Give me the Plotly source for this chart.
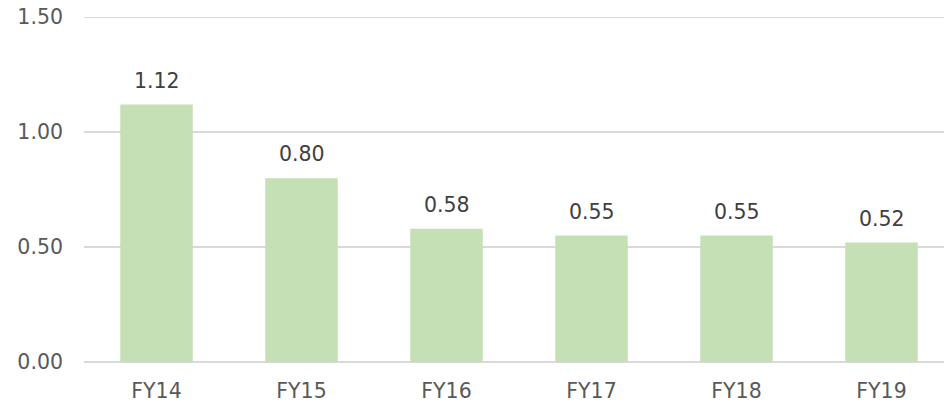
import plotly.graph_objects as go

categories = ["FY14", "FY15", "FY16", "FY17", "FY18", "FY19"]
values = [1.12, 0.80, 0.58, 0.55, 0.55, 0.52]
tick_vals = [0.0, 0.5, 1.0, 1.5]
tick_text = ["0.00", "0.50", "1.00", "1.50"]

FONT = "DejaVu Sans, Verdana, sans-serif"
FS = 20.5

fig = go.Figure()
fig.add_trace(go.Bar(
    x=categories, y=values,
    marker=dict(color="#c5e0b4", line=dict(width=0)),
    width=0.5,
    hoverinfo="skip",
))

for c, v in zip(categories, values):
    fig.add_annotation(
        x=c, y=v, text=f"{v:.2f}", showarrow=False,
        yanchor="bottom", yshift=10,
        font=dict(family=FONT, size=FS, color="#404040"),
    )

fig.update_layout(
    width=944, height=403,
    margin=dict(l=84, r=0, t=14.7, b=41, autoexpand=False),
    plot_bgcolor="white", paper_bgcolor="white",
    showlegend=False,
    font=dict(family=FONT, size=FS, color="#595959"),
    bargap=0.5,
)
fig.update_xaxes(
    range=[-0.5, 5.431], showgrid=False, showline=False, zeroline=False,
    ticks="", tickfont=dict(family=FONT, size=FS, color="#595959"),
    ticklabelstandoff=14, automargin=False,
)
fig.update_yaxes(
    range=[0, 1.51], tickvals=tick_vals, ticktext=tick_text,
    showgrid=True, gridcolor="#d9d9d9", gridwidth=1.5,
    zeroline=True, zerolinecolor="#d9d9d9", zerolinewidth=1.5,
    showline=False, ticks="",
    tickfont=dict(family=FONT, size=FS, color="#595959"),
    ticklabelstandoff=20, automargin=False, ticklabeloverflow="allow",
)

fig.write_html(
    "out.html",
    config={"displayModeBar": False, "staticPlot": True},
    post_script="document.body.style.margin='0px';document.body.style.overflow='hidden';",
)
